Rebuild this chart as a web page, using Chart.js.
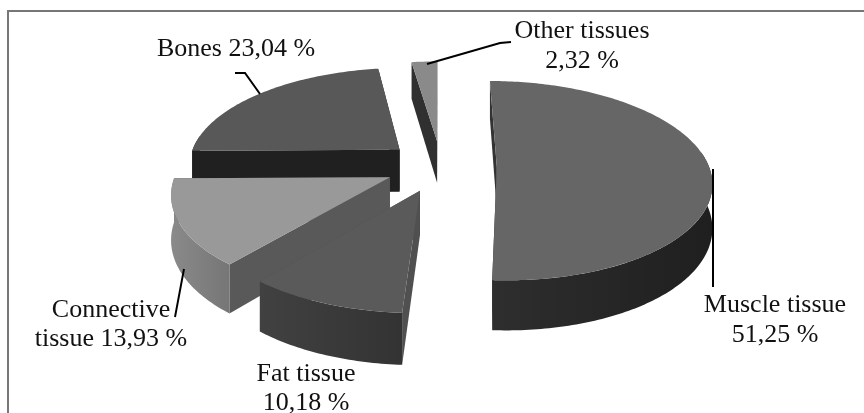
<!DOCTYPE html>
<html>
<head>
<meta charset="utf-8">
<style>
    html, body { margin: 0; padding: 0; background: #fff; }
    canvas { display: block; }
</style>
<script src="https://cdn.jsdelivr.net/npm/chart.js@4"></script>
</head>
<body>
<canvas id="pieCanvas" width="864" height="413"></canvas>
<script>
const categories = ['Muscle tissue', 'Fat tissue', 'Connective tissue', 'Bones', 'Other tissues'];
const shares = [51.25, 10.18, 13.93, 23.04, 2.32];

const topColors = ['#666666', '#5a5a5a', '#999999', '#585858', '#8a8a8a'];
const cutColors = ['#333333', '#505050', '#595959', '#202020', '#303030'];
const wallLeft = ['#2e2e2e', '#414141', '#8a8a8a', '#202020', '#303030'];
const wallRight = ['#1f1f1f', '#333333', '#767676', '#202020', '#303030'];

// text placement: centre x, then baseline y of each line
const labelPlaces = [
    { x: 775, y: [312, 342] },
    { x: 306, y: [381, 410] },
    { x: 111, y: [317, 346] },
    { x: 236, y: [56] },
    { x: 582, y: [38, 68] }
];
const leaders = [
    [[713, 169], [713, 287]],
    [],
    [[184, 269], [175, 317]],
    [[235, 73], [245, 73], [260, 94]],
    [[427, 64], [500, 43], [511, 42]]
];

const view = { cx: 441, cy: 166, rx: 212, ry: 97.5, persp: 0.14, depth: 43 };

function pct(v) {
    return v.toFixed(2).replace('.', ',') + ' %';
}

function labelLines(i) {
    const value = pct(shares[i]);
    if (categories[i] === 'Bones') return ['Bones ' + value];
    if (categories[i] === 'Connective tissue') return ['Connective', 'tissue ' + value];
    return [categories[i], value];
}

function project(u, v, z) {
    const s = 1 / (1 - view.persp * v);
    return [view.cx + u * view.rx * s, view.cy + v * view.ry * s + z * s];
}

function tracePath(ctx, pts) {
    ctx.beginPath();
    pts.forEach((p, i) => (i ? ctx.lineTo(p[0], p[1]) : ctx.moveTo(p[0], p[1])));
    ctx.closePath();
}

function drawSlice(ctx, arc, i) {
    const { startAngle, endAngle, outerRadius } = arc.getProps(['startAngle', 'endAngle', 'outerRadius'], true);
    const mid = (startAngle + endAngle) / 2;
    const d = arc.options.offset / outerRadius;
    const ox = d * Math.cos(mid);
    const oy = d * Math.sin(mid);
    const rim = (a, z) => project(ox + Math.cos(a), oy + Math.sin(a), z);
    const apex = z => project(ox, oy, z);

    // cut faces
    ctx.fillStyle = cutColors[i];
    [startAngle, endAngle].forEach(a => {
        tracePath(ctx, [apex(0), rim(a, 0), rim(a, view.depth), apex(view.depth)]);
        ctx.fill();
    });

    // outer wall, only the part that faces the viewer
    const from = Math.max(startAngle, -0.15);
    const to = Math.min(endAngle, Math.PI + 0.15);
    if (to > from) {
        const upper = [];
        const lower = [];
        const steps = Math.ceil((to - from) * 60);
        for (let k = 0; k <= steps; k++) {
            const a = from + (to - from) * k / steps;
            upper.push(rim(a, 0));
            lower.unshift(rim(a, view.depth));
        }
        const xs = upper.map(p => p[0]);
        const grad = ctx.createLinearGradient(Math.min(...xs), 0, Math.max(...xs), 0);
        grad.addColorStop(0, wallLeft[i]);
        grad.addColorStop(1, wallRight[i]);
        ctx.fillStyle = grad;
        tracePath(ctx, upper.concat(lower));
        ctx.fill();
    }

    // top face
    const top = [apex(0)];
    const steps = Math.ceil((endAngle - startAngle) * 60);
    for (let k = 0; k <= steps; k++) {
        top.push(rim(startAngle + (endAngle - startAngle) * k / steps, 0));
    }
    ctx.fillStyle = arc.options.backgroundColor;
    tracePath(ctx, top);
    ctx.fill();
}

const tiltedPie = {
    id: 'tiltedPie',
    beforeDatasetsDraw(chart) {
        const ctx = chart.ctx;
        const arcs = chart.getDatasetMeta(0).data;
        const order = arcs.map((arc, i) => i).sort((a, b) => {
            const mid = arc => (arc.startAngle + arc.endAngle) / 2;
            return Math.sin(mid(arcs[a])) - Math.sin(mid(arcs[b]));
        });
        ctx.save();
        order.forEach(i => drawSlice(ctx, arcs[i], i));
        ctx.restore();
        return false;
    },
    afterDraw(chart) {
        const ctx = chart.ctx;
        ctx.save();

        // frame, the picture is cut off at right and bottom
        ctx.strokeStyle = '#777777';
        ctx.lineWidth = 2;
        ctx.beginPath();
        ctx.moveTo(8, 413);
        ctx.lineTo(8, 11);
        ctx.lineTo(864, 11);
        ctx.stroke();

        ctx.strokeStyle = '#000000';
        ctx.lineWidth = 2;
        leaders.forEach(line => {
            ctx.beginPath();
            line.forEach((p, i) => (i ? ctx.lineTo(p[0], p[1]) : ctx.moveTo(p[0], p[1])));
            ctx.stroke();
        });

        ctx.fillStyle = '#111111';
        ctx.font = '26px "Liberation Serif"';
        ctx.textAlign = 'center';
        ctx.textBaseline = 'alphabetic';
        labelPlaces.forEach((place, i) => {
            labelLines(i).forEach((text, k) => ctx.fillText(text, place.x, place.y[k]));
        });
        ctx.restore();
    }
};

new Chart(document.getElementById('pieCanvas'), {
    type: 'pie',
    data: {
        labels: categories,
        datasets: [{
            data: shares,
            backgroundColor: topColors,
            borderWidth: 0,
            offset: 48
        }]
    },
    options: {
        responsive: false,
        animation: false,
        plugins: {
            legend: { display: false },
            tooltip: { enabled: false }
        }
    },
    plugins: [tiltedPie]
});
</script>
</body>
</html>
